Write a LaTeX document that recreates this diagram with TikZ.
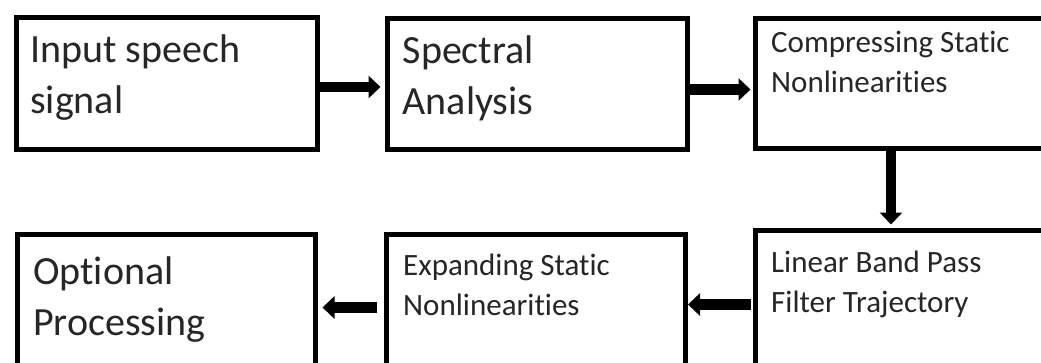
\documentclass[tikz,border=0pt]{standalone}
\usepackage{fontspec}
\setmainfont[Ligatures=NoCommon]{Carlito}
\usetikzlibrary{arrows.meta}
\tikzset{
  box/.style={draw=black, line width=5pt, rectangle, inner sep=0pt, fill=white},
  big/.style={anchor=base west, inner sep=0pt, align=left, font=\fontsize{40}{51}\selectfont, text=black!85},
  small/.style={anchor=base west, inner sep=0pt, align=left, font=\fontsize{31}{40}\selectfont, text=black!85},
  arr/.style={line width=10.5pt, -{Triangle[length=12pt,width=22pt]}}
}
\begin{document}
\begin{tikzpicture}[x=1pt,y=-1pt]
\useasboundingbox (0,0) rectangle (1041,362);
\clip (0,0) rectangle (1041,362);
\node[box, minimum width=300.5pt, minimum height=132pt, anchor=north west] (b1) at (14,14.5) {};
\node[box, minimum width=300pt, minimum height=131pt, anchor=north west] (b2) at (385,16) {};
\node[box, minimum width=330pt, minimum height=130.5pt, anchor=north west] (b3) at (753,15.5) {};
\node[box, minimum width=330pt, minimum height=160pt, anchor=north west] (b4) at (753,228) {};
\node[box, minimum width=299pt, minimum height=160pt, anchor=north west] (b5) at (384,232) {};
\node[box, minimum width=298.5pt, minimum height=160pt, anchor=north west] (b6) at (14.5,232) {};
\node[big] (t1) at (30,113) {Input speech\\signal};
\node[big] (t2) at (402.5,114) {Spectral\\Analysis};
\node[small] (t3) at (771,92) {Compressing Static\\Nonlinearities};
\node[small] (t4) at (771,312) {Linear Band Pass\\Filter Trajectory};
\node[small] (t5) at (403,315) {Expanding Static\\Nonlinearities};
\node[big] (t6) at (33,335) {Optional\\Processing};
\draw[arr] ([yshift=-72.5pt]b1.north east) -- ([xshift=-4.5pt,yshift=-71pt]b2.north west);
\draw[arr] ([yshift=-73.5pt]b2.north east) -- ([xshift=-2.5pt,yshift=-74pt]b3.north west);
\draw[arr] ([xshift=138pt]b3.south west) -- ([xshift=138pt,yshift=3.5pt]b4.north west);
\draw[arr] ([xshift=-2.5pt,yshift=-76.5pt]b4.north west) -- ([yshift=-72.5pt]b5.north east);
\draw[arr] ([xshift=-7.5pt,yshift=-75.5pt]b5.north west) -- ([xshift=4.5pt,yshift=-75.5pt]b6.north east);
\end{tikzpicture}
\end{document}
